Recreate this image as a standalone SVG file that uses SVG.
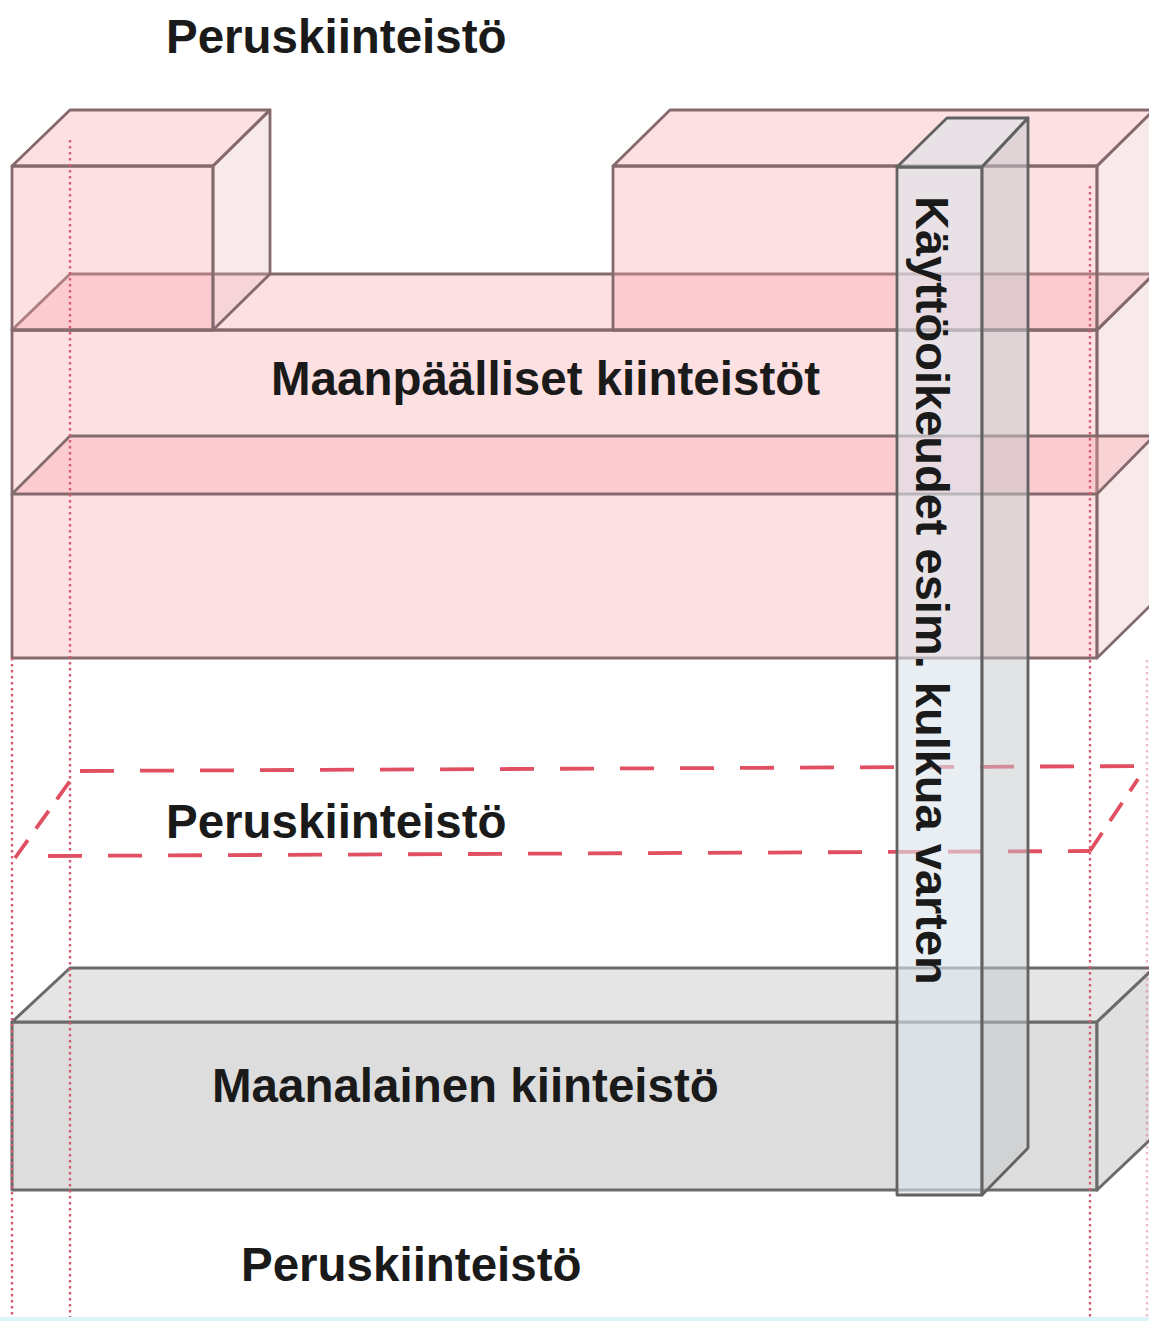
<svg xmlns="http://www.w3.org/2000/svg" width="1149" height="1321" viewBox="0 0 1149 1321">
<style>
.pink{fill:#f8a3aa;fill-opacity:0.34;stroke:#846a6c;stroke-width:2.8;stroke-linejoin:round}
.pinkside{fill:#e9b8bc;fill-opacity:0.3;stroke:#846a6c;stroke-width:2.8;stroke-linejoin:round}
.grey{fill:#dddddd;stroke:#6a6a6a;stroke-width:3;stroke-linejoin:round}
.greytop{fill:#e5e5e5;stroke:#6a6a6a;stroke-width:3;stroke-linejoin:round}
.greyside{fill:#e0e0e0;stroke:#6a6a6a;stroke-width:3;stroke-linejoin:round}
.col{fill:#dbe3ea;fill-opacity:0.62;stroke:#626262;stroke-width:2.8;stroke-linejoin:round}
.colside{fill:#c4c8cc;fill-opacity:0.5;stroke:#626262;stroke-width:2.8;stroke-linejoin:round}
.dash{fill:none;stroke:#e04f62;stroke-width:3.8;stroke-dasharray:34 26}
.dot{fill:none;stroke:#d45c72;stroke-width:2.4;stroke-dasharray:2.5 3.5}
.lbl{font-family:"Liberation Sans",Arial,sans-serif;font-weight:bold;font-size:47.5px;fill:#1a1a1a}
</style>
<rect x="0" y="0" width="1149" height="1321" fill="#ffffff"/>

<g id="maanpaalliset-kiinteistot">
  <rect class="pink" x="12" y="330" width="1085" height="328"/>
  <polygon class="pinkside" points="1097,330 1154,274 1154,602 1097,658"/>
  <polygon class="pink" points="12,330 70,274 1154,274 1097,330"/>
  <polygon class="pink" points="12,494 70,436 1154,436 1097,494"/>
  <rect class="pink" x="12" y="166" width="201" height="164"/>
  <polygon class="pink" points="12,166 70,110 270,110 213,166"/>
  <polygon class="pinkside" points="213,166 270,110 270,274 213,330"/>
  <rect class="pink" x="613" y="166" width="484" height="164"/>
  <polygon class="pink" points="613,166 670,110 1154,110 1097,166"/>
  <polygon class="pinkside" points="1097,166 1154,110 1154,274 1097,330"/>
</g>

<g id="peruskiinteisto-keski">
  <path class="dash" d="M80 771 L1149 766"/>
  <path class="dash" d="M48 856 L1090 851"/>
  <path class="dash" d="M15 858 L70 781" style="stroke-dasharray:22 14"/>
  <path class="dash" d="M1090 851 L1138 779" style="stroke-dasharray:22 14"/>
</g>

<g id="maanalainen-kiinteisto">
  <rect class="grey" x="12" y="1022" width="1085" height="168"/>
  <polygon class="greytop" points="12,1022 70,968 1154,968 1097,1022"/>
  <polygon class="greyside" points="1097,1022 1154,968 1154,1136 1097,1190"/>
</g>

<g id="kayttooikeus">
  <rect class="col" x="897" y="167" width="85" height="1028"/>
  <polygon class="col" points="897,167 947,118 1028,118 982,167"/>
  <polygon class="colside" points="982,167 1028,118 1028,1148 982,1195"/>
</g>

<g id="connectors">
  <path class="dot" d="M70 140 L70 1321"/>
  <path class="dot" d="M12 658 L12 1321"/>
  <path class="dot" d="M1090 186 L1090 1321"/>
  <path class="dot" d="M1147 660 L1147 1321" style="opacity:0.4"/>
</g>

<g id="labels">
  <text class="lbl" x="166" y="53">Peruskiinteistö</text>
  <text class="lbl" x="271" y="395">Maanpäälliset kiinteistöt</text>
  <text class="lbl" x="166" y="838">Peruskiinteistö</text>
  <text class="lbl" x="212" y="1102">Maanalainen kiinteistö</text>
  <text class="lbl" x="241" y="1281">Peruskiinteistö</text>
  <text class="lbl" transform="translate(916,196) rotate(90)" style="font-size:47px">Käyttöoikeudet esim. kulkua varten</text>
</g>
<rect x="0" y="1317" width="1149" height="4" fill="#dcf5fb"/>
</svg>
